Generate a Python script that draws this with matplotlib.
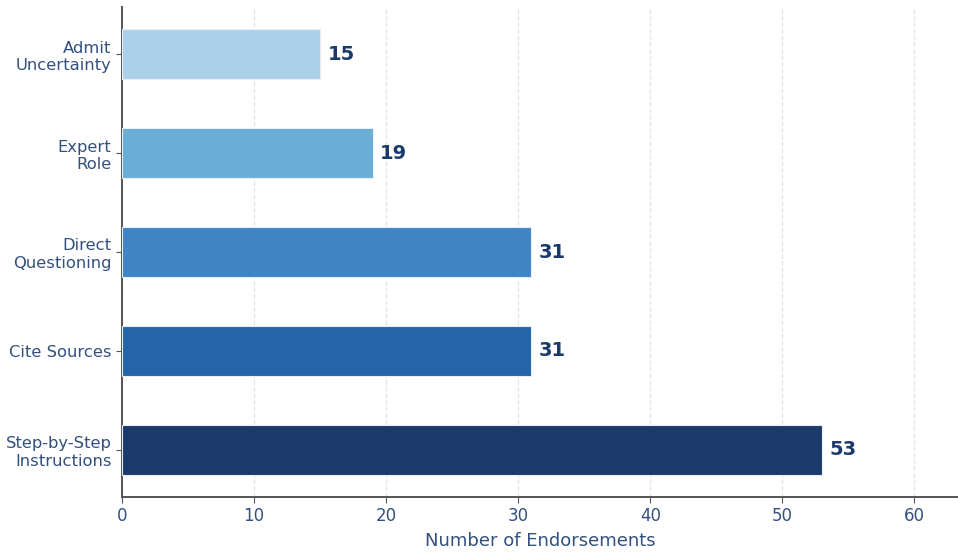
import matplotlib
matplotlib.use("Agg")
import matplotlib.pyplot as plt

categories = ["Step-by-Step\nInstructions", "Cite Sources", "Direct\nQuestioning",
              "Expert\nRole", "Admit\nUncertainty"]
endorsements = [53, 31, 31, 19, 15]
bar_colors = ["#1b396b", "#2464a8", "#3f85c6", "#6aaed6", "#abd1ea"]

text_color = "#33507f"
label_color = "#1b3a6b"

fig = plt.figure(figsize=(9.58, 5.54), dpi=100)
ax = fig.add_axes([122 / 958, 1 - 497 / 554, 1 - 122 / 958, (497 - 7) / 554])

ypos = list(range(len(categories)))
ax.barh(ypos, endorsements, height=0.5, color=bar_colors,
        edgecolor="#e8eef6", linewidth=0.8, zorder=3)

for y, v in zip(ypos, endorsements):
    ax.text(v + 0.55, y, f"{v}", va="center", ha="left", fontsize=14,
            fontweight="bold", color=label_color, zorder=4)

ax.set_yticks(ypos)
ax.set_yticklabels(categories, fontsize=11.8, color=text_color)
ax.set_xlim(0, 63.3)
ax.set_xticks([0, 10, 20, 30, 40, 50, 60])
ax.tick_params(axis="x", labelsize=12, labelcolor=text_color, color="#555555", length=4)
ax.tick_params(axis="y", color="#555555", length=4)
ax.set_xlabel("Number of Endorsements", fontsize=13, color=text_color, labelpad=5)

ax.grid(axis="x", linestyle="--", color="#e3e3e3", linewidth=0.9, zorder=0)
ax.set_axisbelow(True)
for side in ("top", "right"):
    ax.spines[side].set_visible(False)
for side in ("left", "bottom"):
    ax.spines[side].set_color("#555555")
    ax.spines[side].set_linewidth(1.4)

fig.savefig("out.png", dpi=100)
